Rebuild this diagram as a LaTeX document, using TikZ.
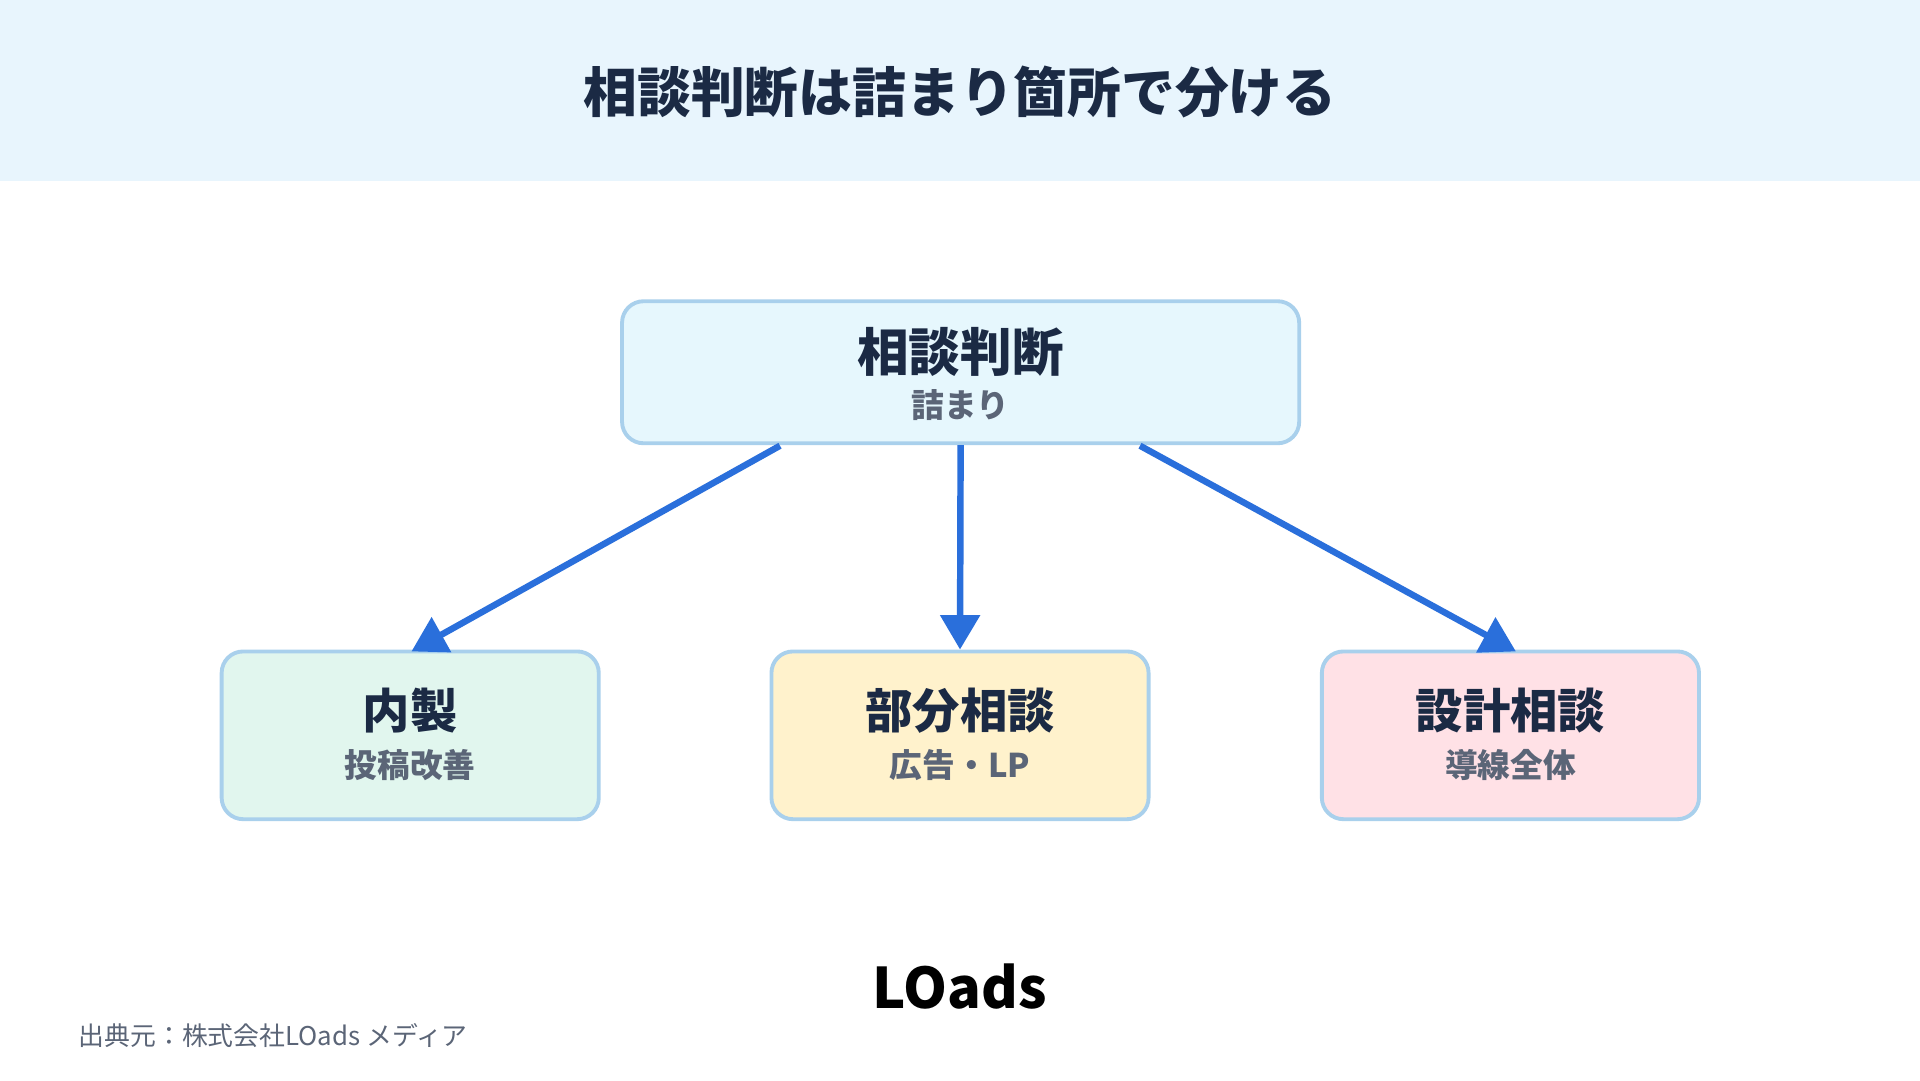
\documentclass[tikz,border=0pt]{standalone}
\usepackage{fontspec}
\setmainfont{Noto Sans CJK JP}
\usetikzlibrary{arrows.meta}
\definecolor{navy}{HTML}{1B2A44}
\definecolor{subgray}{HTML}{5B6577}
\definecolor{bandblue}{HTML}{E8F5FD}
\definecolor{boxline}{HTML}{A9D0EC}
\definecolor{topfill}{HTML}{E6F7FD}
\definecolor{greenfill}{HTML}{E1F6EE}
\definecolor{yellowfill}{HTML}{FFF2CC}
\definecolor{pinkfill}{HTML}{FFE1E6}
\definecolor{arrowblue}{HTML}{2A6FDB}
\tikzset{
  box/.style={draw=boxline,line width=0.9pt,rounded corners=5pt,minimum height=1.37cm,minimum width=3.08cm},
  ttl/.style={font=\bfseries\fontsize{11}{13}\selectfont,text=navy},
  sub/.style={font=\bfseries\fontsize{7.6}{9}\selectfont,text=subgray},
  link/.style={draw=arrowblue,line width=1.5pt,-{Triangle[length=8pt,width=9pt]}}
}
\begin{document}
\begin{tikzpicture}
\useasboundingbox (0,0) rectangle (15.68,8.82);
\fill[white] (0,0) rectangle (15.68,8.82);
\fill[bandblue] (0,7.34) rectangle (15.68,8.82);
\node[font=\bfseries\fontsize{12.5}{14}\selectfont,text=navy] (title) at (7.84,8.07) {相談判断は詰まり箇所で分ける};
% boxes
\node[box,fill=topfill,minimum width=5.53cm,minimum height=1.16cm] (top) at (7.845,5.78) {};
\node[ttl,font=\bfseries\fontsize{12}{14}\selectfont] (topT) at (7.845,5.95) {相談判断};
\node[sub] (topS) at (7.845,5.51) {詰まり};
\node[box,fill=greenfill] (left) at (3.35,2.815) {};
\node[ttl] (leftT) at (3.35,3.02) {内製};
\node[sub] (leftS) at (3.35,2.57) {投稿改善};
\node[box,fill=yellowfill] (mid) at (7.84,2.815) {};
\node[ttl] (midT) at (7.84,3.02) {部分相談};
\node[sub] (midS) at (7.84,2.57) {広告・LP};
\node[box,fill=pinkfill] (right) at (12.335,2.815) {};
\node[ttl] (rightT) at (12.335,3.02) {設計相談};
\node[sub] (rightS) at (12.335,2.57) {導線全体};
% arrows
\coordinate (aL) at (6.37,5.18);
\coordinate (aR) at (9.31,5.18);
\coordinate (bL) at (3.36,3.50);
\coordinate (bR) at (12.38,3.50);
\draw[link] (aL) -- (bL);
\draw[link] (top.south) -- (mid.north);
\draw[link] (aR) -- (bR);
% footer
\node[font=\bfseries\fontsize{13}{15}\selectfont,text=black] (logo) at (7.84,0.76) {LOads};
\node[anchor=west,font=\fontsize{6}{7}\selectfont,text=subgray] (src) at (0.52,0.36) {出典元：株式会社LOads メディア};
\end{tikzpicture}
\end{document}
